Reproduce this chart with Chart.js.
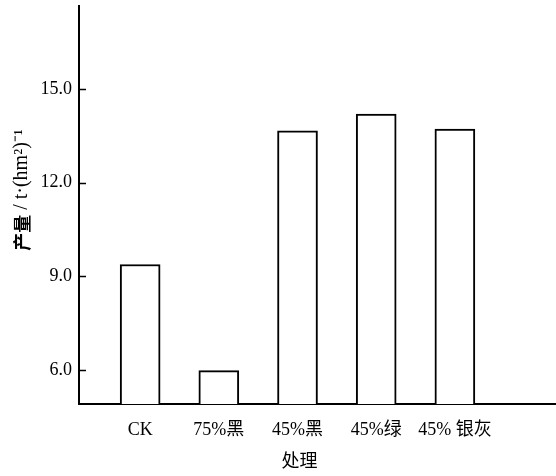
<!DOCTYPE html>
<html>
<head>
<meta charset="utf-8">
<script src="https://cdn.jsdelivr.net/npm/chart.js@4/dist/chart.umd.min.js"></script>
<style>
  html, body { margin: 0; padding: 0; background: #fff; }
  #wrap { width: 556px; height: 476px; }
</style>
</head>
<body>
<div id="wrap"><canvas id="c" width="556" height="476"></canvas></div>
<script>
// Treatments (shading nets) and their yields
const categories = ['CK', '75%黑', '45%黑', '45%绿', '45% 银灰'];
const yields = [9.38, 5.98, 13.66, 14.2, 13.72];
const yTicks = [6.0, 9.0, 12.0, 15.0];
const xTitle = '处理';
const yTitleBold = '产量';
const yTitleRest = ' / t·(hm²)⁻¹';

const SERIF = "'Liberation Serif', 'Times New Roman', 'Noto Sans CJK SC', serif";
const CJK = "'Noto Sans CJK SC', 'Liberation Serif', serif";

// Inward tick marks on the value axis plus both axis titles
const axisDecor = {
  id: 'axisDecor',
  afterDraw(chart) {
    const { ctx, chartArea, scales } = chart;
    const y = scales.y, x = scales.x;
    ctx.save();
    ctx.strokeStyle = '#000';
    ctx.lineWidth = 1.5;
    yTicks.forEach(v => {
      const py = Math.round(y.getPixelForValue(v)) + 0.5;
      ctx.beginPath();
      ctx.moveTo(chartArea.left, py);
      ctx.lineTo(chartArea.left + 7, py);
      ctx.stroke();
    });

    // category axis title, under the middle treatment
    ctx.fillStyle = '#000';
    ctx.font = '18px ' + CJK;
    ctx.textAlign = 'center';
    ctx.textBaseline = 'middle';
    ctx.fillText(xTitle, x.getPixelForValue(2) + 2, 460);

    // value axis title, rotated
    ctx.translate(22, 190);
    ctx.rotate(-Math.PI / 2);
    ctx.textAlign = 'left';
    ctx.textBaseline = 'middle';
    const boldFont = 'bold 18px ' + CJK;
    const restFont = '20px ' + SERIF;
    ctx.font = boldFont;
    const wb = ctx.measureText(yTitleBold).width;
    ctx.font = restFont;
    const wr = ctx.measureText(yTitleRest).width;
    const start = -(wb + wr) / 2;
    ctx.font = boldFont;
    ctx.fillText(yTitleBold, start, 0);
    ctx.font = restFont;
    ctx.fillText(yTitleRest, start + wb, 0);
    ctx.restore();
  }
};

new Chart(document.getElementById('c'), {
  type: 'bar',
  data: {
    datasets: [{
      data: categories.map((c, i) => ({ x: i, y: yields[i] })),
      backgroundColor: '#fff',
      borderColor: '#000',
      borderWidth: 2,
      barThickness: 40
    }]
  },
  options: {
    responsive: false,
    animation: false,
    devicePixelRatio: 1,
    layout: { padding: { top: 6, right: 0, left: 0, bottom: 0 } },
    plugins: { legend: { display: false }, tooltip: { enabled: false } },
    scales: {
      x: {
        type: 'linear',
        offset: false,
        min: -0.777,
        max: 5.285,
        grid: { display: false, drawTicks: false, offset: false },
        border: { display: true, color: '#000', width: 2 },
        afterBuildTicks: s => { s.ticks = categories.map((_, i) => ({ value: i })); },
        ticks: {
          callback: v => categories[v] ?? '',
          font: { family: SERIF, size: 18 },
          color: '#000',
          padding: 15,
          maxRotation: 0,
          autoSkip: false
        },
        afterFit: s => { s.height = 72; s.paddingLeft = 0; s.paddingRight = 0; }
      },
      y: {
        min: 4.91,
        max: 17.66,
        grid: { display: false, drawTicks: false },
        border: { display: true, color: '#000', width: 2 },
        afterBuildTicks: s => { s.ticks = yTicks.map(v => ({ value: v })); },
        ticks: {
          callback: v => Number(v).toFixed(1),
          font: { family: SERIF, size: 18 },
          color: '#000',
          padding: 7
        },
        afterFit: s => { s.width = 79; s.paddingTop = 0; s.paddingBottom = 0; }
      }
    }
  },
  plugins: [axisDecor]
});
</script>
</body>
</html>
